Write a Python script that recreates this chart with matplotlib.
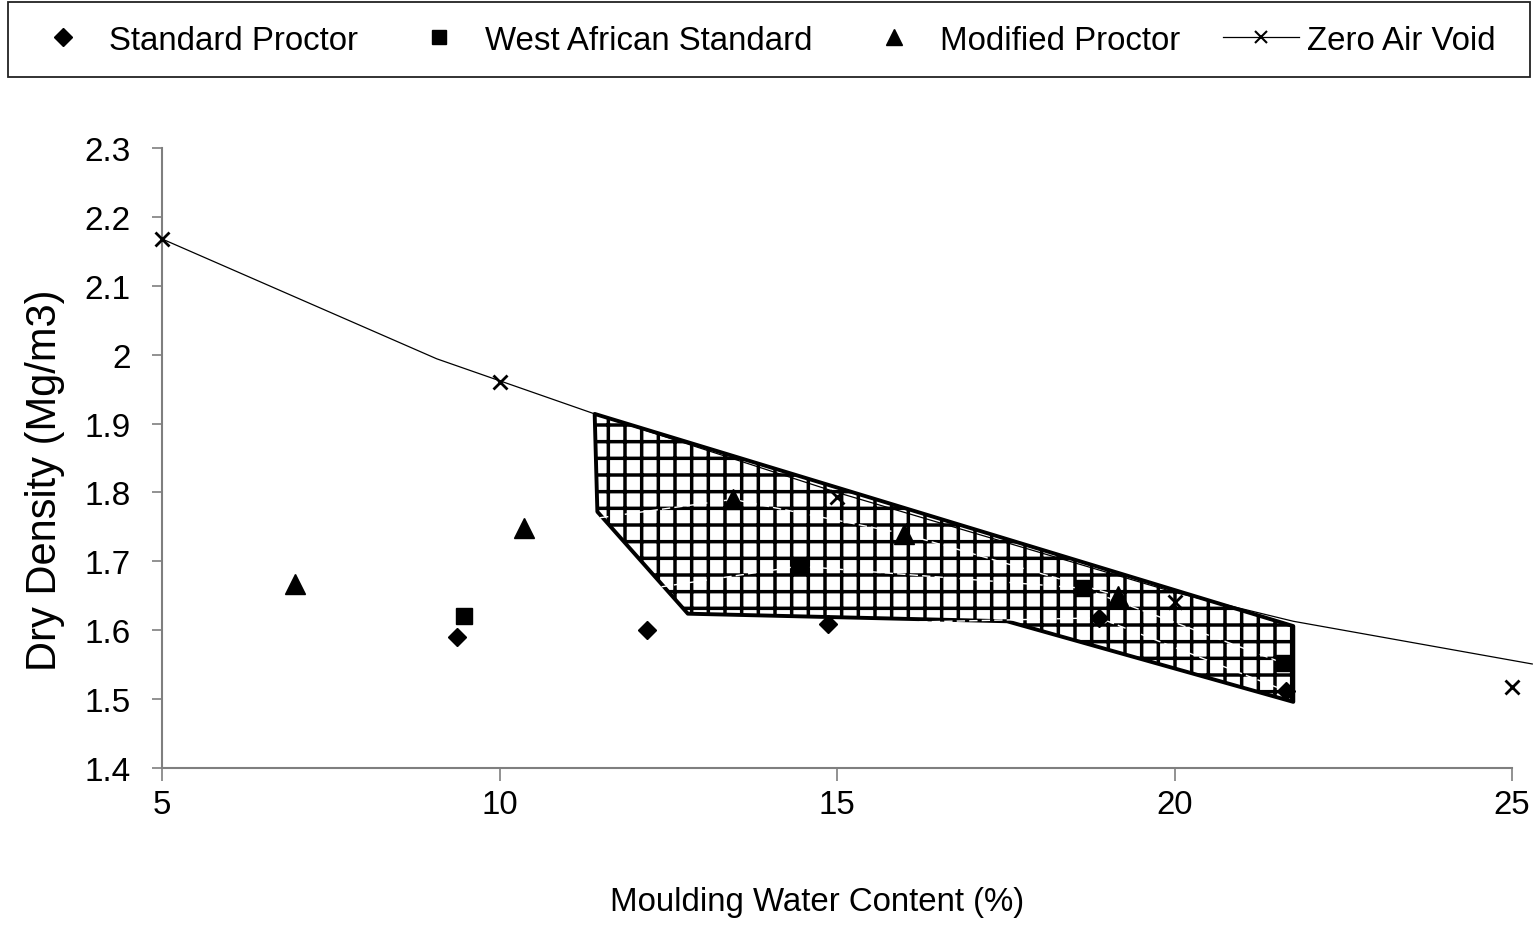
import matplotlib
matplotlib.use("Agg")
import matplotlib.pyplot as plt
from matplotlib import font_manager
from matplotlib.lines import Line2D
from matplotlib.patches import Rectangle

# fonts: the original uses Arial / Arial Narrow
names = {f.name for f in font_manager.fontManager.ttflist}
NARROW = "Liberation Sans Narrow" if "Liberation Sans Narrow" in names else "Liberation Sans"
REGULAR = "Liberation Sans"
narrow_scale = 1.0 if NARROW == "Liberation Sans Narrow" else 0.82

# compaction test results (water content %, dry density Mg/m3)
std_w = [9.37, 12.19, 14.87, 18.88, 21.65]
std_d = [1.59, 1.60, 1.609, 1.618, 1.512]

was_w = [9.47, 14.44, 18.64, 21.62]
was_d = [1.62, 1.693, 1.661, 1.552]

mod_w = [6.97, 10.36, 13.46, 15.99, 19.16]
mod_d = [1.667, 1.748, 1.79, 1.74, 1.65]

# zero air void markers and its curve
zav_w = [5, 10, 15, 20, 25]
zav_d = [2.168, 1.96, 1.793, 1.641, 1.518]
zav_line_w = [5, 9.07, 11.41, 15, 20, 21.76, 25.3]
zav_line_d = [2.168, 1.994, 1.914, 1.80, 1.655, 1.613, 1.551]

# hatched envelope
env_w = [11.41, 21.76, 21.76, 17.52, 12.79, 11.45]
env_d = [1.914, 1.606, 1.496, 1.613, 1.624, 1.772]

xticks = [5, 10, 15, 20, 25]
yticks = [1.4, 1.5, 1.6, 1.7, 1.8, 1.9, 2.0, 2.1, 2.2, 2.3]
ytick_labels = ["1.4", "1.5", "1.6", "1.7", "1.8", "1.9", "2", "2.1", "2.2", "2.3"]

plt.rcParams["hatch.linewidth"] = 2.5
plt.rcParams["font.family"] = [REGULAR, "DejaVu Sans"]

W, H = 1538, 929
fig = plt.figure(figsize=(W / 100, H / 100), dpi=100)
ax = fig.add_axes([162 / W, 1 - 769 / H, (1512 - 162) / W, (769 - 149) / H])

# envelope polygon with grid hatch
ax.fill(env_w, env_d, facecolor="white", edgecolor="black", hatch="+",
        linewidth=2.8, joinstyle="round", zorder=2)

# white fitted curves (only visible over the hatch)
for w, d in [(std_w, std_d), (was_w, was_d), (mod_w, mod_d)]:
    ax.plot(w, d, color="white", lw=1.0, ls=(0, (6, 3)), zorder=3)

# zero air void curve
ax.plot(zav_line_w, zav_line_d, color="black", lw=0.9, zorder=4, clip_on=False)
ax.plot(zav_w, zav_d, ls="none", marker="x", ms=9.5, mew=2, color="black",
        zorder=5, clip_on=False)

ax.plot(std_w, std_d, ls="none", marker="D", ms=9.5, color="black", zorder=5)
ax.plot(was_w, was_d, ls="none", marker="s", ms=11.5, color="black", zorder=5)
ax.plot(mod_w, mod_d, ls="none", marker="^", ms=14, color="black", zorder=5)

ax.set_xlim(5, 25)
ax.set_ylim(1.4, 2.3)
ax.set_xticks(xticks)
ax.set_xticklabels([str(t) for t in xticks], family=[NARROW, "DejaVu Sans"],
                   fontsize=29 * narrow_scale)
ax.set_yticks(yticks)
ax.set_yticklabels(ytick_labels, fontsize=24)

for s in ["top", "right"]:
    ax.spines[s].set_visible(False)
for s in ["left", "bottom"]:
    ax.spines[s].set_color("#7f7f7f")
    ax.spines[s].set_linewidth(1.5)

ax.tick_params(axis="y", direction="out", length=7.5, width=1.2, color="#7f7f7f", pad=15)
ax.tick_params(axis="x", direction="out", length=9, width=1.2, color="#7f7f7f", pad=6)

ax.set_xlabel("Moulding Water Content (%)", family=[NARROW, "DejaVu Sans"],
              fontsize=29 * narrow_scale)
ax.xaxis.set_label_coords(0.485, -0.19)
ax.set_ylabel("Dry Density (Mg/m3)", fontsize=30)
ax.yaxis.set_label_coords(-0.072, 0.466)

# legend across the top, with its own box
fig.add_artist(Rectangle((8 / W, 1 - 78 / H), 1522 / W, 75 / H, transform=fig.transFigure,
                         facecolor="white", edgecolor="#222222", linewidth=1.3))
handles = [
    Line2D([], [], ls="none", marker="D", ms=9, color="black"),
    Line2D([], [], ls="none", marker="s", ms=10.5, color="black"),
    Line2D([], [], ls="none", marker="^", ms=12, color="black"),
    Line2D([], [], color="black", lw=0.9, marker="x", ms=9, mew=1.5),
]
labels = ["Standard Proctor", "West African Standard", "Modified Proctor", "Zero Air Void"]
fs = 29 * narrow_scale
fig.legend(handles, labels, loc="center left",
           bbox_to_anchor=(25 / W, 1 - 41 / H), ncol=4, frameon=False,
           prop={"family": [NARROW, "DejaVu Sans"], "size": fs},
           handlelength=2.3, handletextpad=0.25, borderpad=0,
           columnspacing=1.3, borderaxespad=0)

fig.savefig("out.png", dpi=100)
